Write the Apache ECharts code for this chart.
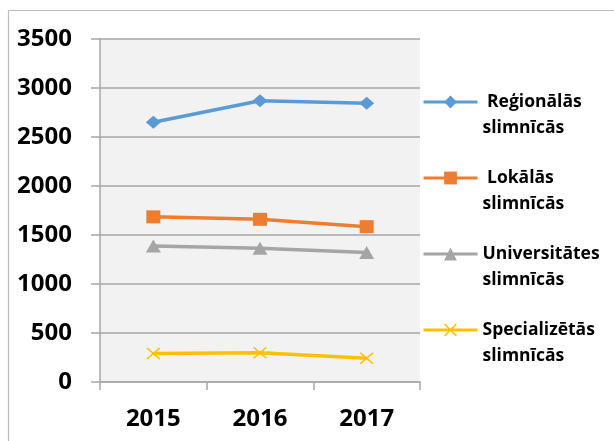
<!DOCTYPE html>
<html>
<head>
<meta charset="utf-8">
<script src="https://cdn.jsdelivr.net/npm/echarts@6/dist/echarts.min.js"></script>
<style>
html,body{margin:0;padding:0;background:#fff;}
#c{width:614px;height:441px;}
</style>
</head>
<body>
<div id="c"></div>
<script>
const categories = ['2015', '2016', '2017'];
const seriesNames = [' Reģionālās\nslimnīcās', ' Lokālās\nslimnīcās', 'Universitātes\nslimnīcās', 'Specializētās\nslimnīcās'];
const regionalas = [2650, 2870, 2845];
const lokalas = [1685, 1660, 1585];
const universitates = [1388, 1365, 1322];
const specializetas = [292, 298, 242];
const yTicks = { min: 0, max: 3500, interval: 500 };

const colors = ['#5b9bd5', '#ed7d31', '#a5a5a5', '#ffc000'];
const crossPath = 'path://M0,1 L1,0 L6,5 L11,0 L12,1 L7,6 L12,11 L11,12 L6,7 L1,12 L0,11 L5,6 Z';
const symbols = ['diamond', 'rect', 'triangle', crossPath];
const symbolSizes = [[15, 13], [14, 13], [15, 13], [14, 12]];
const values = [regionalas, lokalas, universitates, specializetas];

const chart = echarts.init(document.getElementById('c'));
const LH = 26;
chart.setOption({
  animation: false,
  backgroundColor: '#ffffff',
  graphic: [{
    type: 'rect',
    shape: { x: 8.5, y: 10.5, width: 700, height: 500 },
    style: { fill: 'none', stroke: '#bcbcbc', lineWidth: 1.2 },
    z: 0
  }],
  grid: {
    left: 100, right: 194, top: 39, bottom: 59,
    show: true, backgroundColor: '#f2f2f2', borderWidth: 0
  },
  legend: {
    orient: 'vertical',
    left: 422, top: 63, padding: 0,
    itemWidth: 54, itemHeight: 16, itemGap: 76 - 3 * LH,
    lineStyle: { width: 3 },
    formatter: function (name) { return '\n' + name; },
    textStyle: {
      fontFamily: 'Open Sans', fontWeight: 'bold', fontSize: 17.5,
      color: '#000', lineHeight: LH
    },
    data: seriesNames
  },
  xAxis: {
    type: 'category',
    data: categories,
    boundaryGap: true,
    axisLine: { lineStyle: { color: '#a6a6a6', width: 1.5 } },
    axisTick: { show: true, length: 8, lineStyle: { color: '#a6a6a6', width: 1.5 } },
    axisLabel: { margin: 25, color: '#000', fontFamily: 'Open Sans', fontWeight: 'bold', fontSize: 24 }
  },
  yAxis: {
    type: 'value',
    min: yTicks.min, max: yTicks.max, interval: yTicks.interval,
    axisLine: { show: true, lineStyle: { color: '#a6a6a6', width: 1.5 } },
    axisTick: { show: true, length: 9, lineStyle: { color: '#a6a6a6', width: 1.5 } },
    splitLine: { lineStyle: { color: '#a6a6a6', width: 1.5 } },
    axisLabel: {
      margin: 28, color: '#000', fontFamily: 'Open Sans', fontWeight: 'bold', fontSize: 24,
      formatter: function (v) { return String(v); }
    }
  },
  series: seriesNames.map((n, i) => ({
    name: n,
    type: 'line',
    data: values[i],
    symbol: symbols[i],
    symbolSize: symbolSizes[i],
    showAllSymbol: true,
    lineStyle: { color: colors[i], width: 3.5 },
    itemStyle: { color: colors[i] },
    emphasis: { disabled: true }
  }))
});
</script>
</body>
</html>
